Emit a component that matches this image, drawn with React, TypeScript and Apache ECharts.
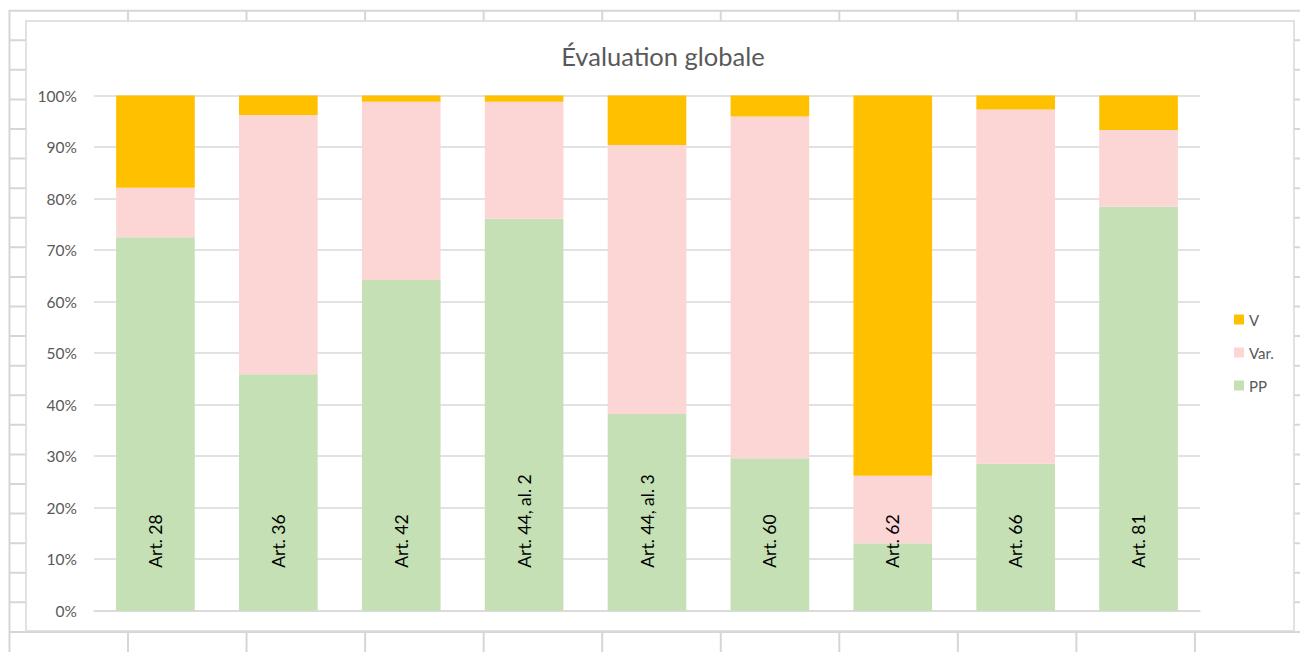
import React, { useEffect, useRef } from "react";
import * as echarts from "echarts";

const categories = [
  "Art. 28",
  "Art. 36",
  "Art. 42",
  "Art. 44, al. 2",
  "Art. 44, al. 3",
  "Art. 60",
  "Art. 62",
  "Art. 66",
  "Art. 81",
];
const ppValues = [72.5, 45.9, 64.2, 76.1, 38.2, 29.6, 13.1, 28.5, 78.4];
const varValues = [9.6, 50.3, 34.6, 22.7, 52.2, 66.3, 13.1, 68.8, 14.9];
const vValues = [17.9, 3.8, 1.2, 1.2, 9.6, 4.1, 73.8, 2.7, 6.7];
const legendOrder = ["V", "Var.", "PP"];

const FONT = "Lato, 'Open Sans', sans-serif";

function sheetGraphics() {
  const els: any[] = [];
  const lineStyle = { stroke: "#d6d6d6", lineWidth: 2 };
  const rowStart = 10.7;
  const rowStep = 29.58;
  for (let k = 0; k < 23; k++) {
    const y = rowStart + rowStep * k;
    if (y > 652) break;
    els.push({
      type: "line",
      z: -10,
      silent: true,
      shape: { x1: 9, y1: y, x2: 1300, y2: y },
      style: lineStyle,
    });
  }
  const colXs = [9.5];
  for (let k = 0; k < 11; k++) colXs.push(128 + 118.55 * k);
  colXs.forEach((x) => {
    els.push({
      type: "line",
      z: -10,
      silent: true,
      shape: { x1: x, y1: 10, x2: x, y2: 652 },
      style: lineStyle,
    });
  });
  els.push({
    type: "rect",
    z: -5,
    silent: true,
    shape: { x: 26, y: 21, width: 1268, height: 610 },
    style: { fill: "#ffffff", stroke: "#d9d9d9", lineWidth: 1.5 },
  });
  return els;
}

export default function App() {
  const ref = useRef<HTMLDivElement>(null);
  useEffect(() => {
    if (!ref.current) return;
    const chart = echarts.init(ref.current, undefined, { renderer: "svg" });
    chart.setOption({
      animation: false,
      backgroundColor: "#ffffff",
      textStyle: { fontFamily: FONT },
      graphic: sheetGraphics(),
      title: {
        text: "Évaluation globale",
        left: 658,
        top: 38,
        textAlign: "center",
        textStyle: {
          fontFamily: FONT,
          fontSize: 25.5,
          fontWeight: "normal",
          color: "#595959",
        },
      },
      legend: {
        orient: "vertical",
        left: 1229,
        top: 307,
        itemWidth: 10,
        itemHeight: 10,
        itemGap: 18,
        icon: "rect",
        data: legendOrder,
        textStyle: { fontFamily: FONT, fontSize: 15, color: "#595959" },
      },
      grid: { left: 94, right: 100, top: 95.5, bottom: 41.3, containLabel: false },
      xAxis: {
        type: "category",
        data: categories,
        axisLine: { show: true, lineStyle: { color: "#d9d9d9", width: 1.5 } },
        axisTick: { show: false },
        axisLabel: { show: false },
      },
      yAxis: {
        type: "value",
        min: 0,
        max: 100,
        interval: 10,
        axisLine: { show: false },
        axisTick: { show: false },
        splitLine: { lineStyle: { color: "#d9d9d9", width: 1.5 } },
        axisLabel: {
          formatter: "{value}%",
          margin: 17,
          fontFamily: FONT,
          fontSize: 15.5,
          color: "#595959",
        },
      },
      series: [
        {
          name: "PP",
          type: "bar",
          stack: "total",
          barWidth: "64%",
          data: ppValues,
          itemStyle: { color: "#C5E0B4" },
          label: {
            show: true,
            position: "insideBottom",
            distance: 43,
            rotate: 90,
            align: "left",
            verticalAlign: "middle",
            formatter: "{b}",
            fontFamily: FONT,
            fontSize: 17.5,
            color: "#000000",
          },
        },
        {
          name: "Var.",
          type: "bar",
          stack: "total",
          data: varValues,
          itemStyle: { color: "#FCD5D5" },
        },
        {
          name: "V",
          type: "bar",
          stack: "total",
          data: vValues,
          itemStyle: { color: "#FFC000" },
        },
      ],
    });
    return () => chart.dispose();
  }, []);
  return (
    <div
      ref={ref}
      style={{ position: "fixed", left: 0, top: 0, width: 1300, height: 652 }}
    />
  );
}
